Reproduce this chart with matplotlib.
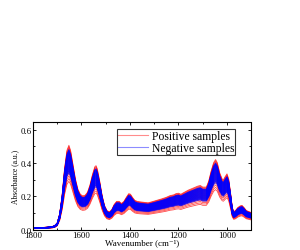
import matplotlib
matplotlib.use("Agg")
import matplotlib.pyplot as plt
from matplotlib.ticker import MultipleLocator, FormatStrFormatter
import numpy as np

# Wavenumbers (cm-1) and mean absorbance spectrum
wavenumber = [1800, 1780, 1760, 1740, 1720, 1710, 1700, 1690, 1680, 1670,
              1660, 1652, 1645, 1635, 1625, 1615, 1605, 1595, 1585, 1575,
              1565, 1555, 1545, 1540, 1535, 1525, 1515, 1505, 1495, 1485,
              1475, 1465, 1455, 1445, 1435, 1425, 1415, 1405, 1398, 1390,
              1380, 1370, 1360, 1340, 1325, 1310, 1290, 1270, 1250, 1235,
              1220, 1210, 1200, 1190, 1180, 1160, 1140, 1120, 1110, 1100,
              1085, 1075, 1065, 1055, 1047, 1040, 1030, 1020, 1015, 1008,
              1000, 993, 985, 978, 972, 965, 955, 945, 938, 930,
              920, 910, 900]
mean_absorbance = [0.010, 0.011, 0.012, 0.014, 0.017, 0.022, 0.035, 0.080, 0.170, 0.300,
                   0.390, 0.415, 0.390, 0.320, 0.250, 0.200, 0.175, 0.167, 0.170, 0.185,
                   0.220, 0.270, 0.310, 0.315, 0.300, 0.240, 0.170, 0.120, 0.095, 0.088,
                   0.100, 0.125, 0.140, 0.140, 0.130, 0.140, 0.160, 0.178, 0.175, 0.160,
                   0.145, 0.140, 0.138, 0.135, 0.133, 0.138, 0.145, 0.152, 0.160, 0.168,
                   0.172, 0.178, 0.180, 0.175, 0.182, 0.195, 0.205, 0.215, 0.218, 0.210,
                   0.210, 0.240, 0.290, 0.330, 0.345, 0.330, 0.280, 0.250, 0.245, 0.260,
                   0.275, 0.250, 0.180, 0.110, 0.090, 0.095, 0.110, 0.118, 0.120, 0.110,
                   0.095, 0.090, 0.085]

# Per-sample intensity factors relative to the mean spectrum
positive_factors = [0.70, 0.74, 0.78, 0.82, 0.85, 0.88, 0.90, 0.92, 0.94, 0.96,
                    0.98, 1.00, 1.02, 1.04, 1.06, 1.08, 1.10, 1.12, 1.14, 1.16,
                    1.18, 1.20, 1.22]
negative_factors = [0.82, 0.84, 0.85, 0.86, 0.87, 0.88, 0.89, 0.90, 0.91, 0.92,
                    0.93, 0.94, 0.95, 0.96, 0.97, 0.98, 0.99, 1.00, 1.01, 1.02,
                    1.03, 1.04, 1.05, 1.06, 1.07, 1.08, 1.09, 1.10, 1.11, 1.12,
                    1.13, 1.14, 1.15, 1.16]

labels = ["Positive samples", "Negative samples"]

plt.rcParams['font.family'] = ['Liberation Serif', 'DejaVu Serif']

fig = plt.figure(figsize=(3.0, 2.51), dpi=100)
ax = fig.add_axes([0.11, 0.08, 0.725, 0.431])

wn = np.array(wavenumber)
mean = np.array(mean_absorbance)

for i, f in enumerate(positive_factors):
    ax.plot(wn, mean * f, color='#ff0000', lw=0.6, alpha=0.7,
            label=labels[0] if i == 0 else None)
for i, f in enumerate(negative_factors):
    ax.plot(wn, mean * f, color='#0000ff', lw=0.6, alpha=0.7,
            label=labels[1] if i == 0 else None)

ax.set_xlim(1800, 903)
ax.set_ylim(0, 0.647)
ax.xaxis.set_major_locator(MultipleLocator(200))
ax.xaxis.set_minor_locator(MultipleLocator(100))
ax.yaxis.set_major_locator(MultipleLocator(0.2))
ax.yaxis.set_minor_locator(MultipleLocator(0.1))
ax.yaxis.set_major_formatter(FormatStrFormatter('%.1f'))
ax.tick_params(which='both', direction='in', top=True, right=True,
               labelsize=6.3, pad=1.0, width=0.6)
ax.tick_params(which='major', length=2.5)
ax.tick_params(which='minor', length=1.5)
for s in ax.spines.values():
    s.set_linewidth(0.8)

ax.set_xlabel('Wavenumber (cm\u207b\u00b9)', fontsize=6.5)
ax.xaxis.set_label_coords(0.5, -0.08)
ax.set_ylabel('Absorbance (a.u.)', fontsize=5.5, labelpad=1)

leg = ax.legend(loc='upper right', bbox_to_anchor=(0.93, 0.93),
                prop={'size': 8.4},
                frameon=True, fancybox=False, edgecolor='black',
                handlelength=2.5, borderpad=0.1, labelspacing=-0.05,
                handletextpad=0.35, borderaxespad=0)
leg.get_frame().set_linewidth(0.8)
for h in leg.get_lines():
    h.set_alpha(0.45)
    h.set_linewidth(0.8)

fig.savefig('out.png', dpi=100)
